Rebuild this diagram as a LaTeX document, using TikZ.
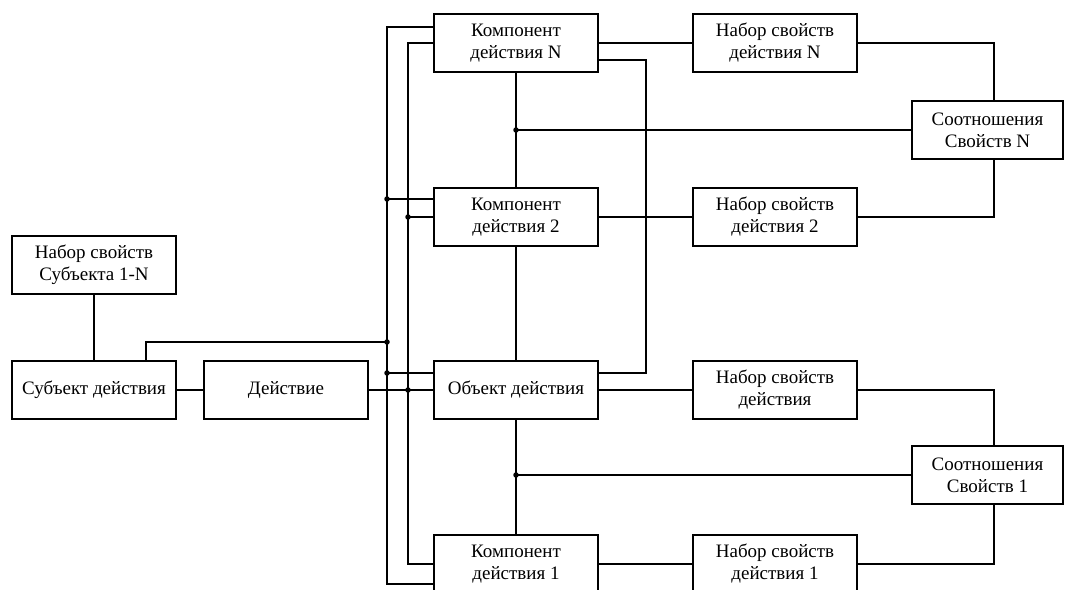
\documentclass[tikz,border=0pt]{standalone}
\usepackage{fontspec}
\setmainfont{Liberation Serif}
\begin{document}
\begin{tikzpicture}[x=1pt,y=-1pt,
  box/.style={draw,line width=1.4pt,minimum width=164pt,minimum height=58pt,inner sep=0pt,align=center,font=\fontsize{19}{22}\selectfont},
  rel/.style={box,minimum width=151pt},
  wire/.style={line width=1.4pt},
  jd/.style={circle,fill,inner sep=0pt,minimum size=5.5pt}]
\useasboundingbox (0,0) rectangle (1065,589);
\clip (0,0) rectangle (1065,589);
% boxes
\node[box] (kN) at (516,43) {Компонент\\действия N};
\node[box] (k2) at (516,217) {Компонент\\действия 2};
\node[box] (obj) at (516,390) {Объект действия};
\node[box] (k1) at (516,564) {Компонент\\действия 1};
\node[box] (nN) at (775,43) {Набор свойств\\действия N};
\node[box] (n2) at (775,217) {Набор свойств\\действия 2};
\node[box] (nd) at (775,390) {Набор свойств\\действия};
\node[box] (n1) at (775,564) {Набор свойств\\действия 1};
\node[rel] (sN) at (987.5,130) {Соотношения\\Свойств N};
\node[rel] (s1) at (987.5,475) {Соотношения\\Свойств 1};
\node[box] (ns) at (94,265) {Набор свойств\\Субъекта 1-N};
\node[box] (sub) at (94,390) {Субъект действия};
\node[box] (act) at (286,390) {Действие};
% helper coordinates
\coordinate (a1) at (387,27);
\coordinate (a2) at (387,584);
\coordinate (a3) at (387,199);
\coordinate (a4) at (387,373);
\coordinate (b1) at (408,43);
\coordinate (b2) at (408,564);
\coordinate (sj) at (146,342);
\coordinate (c1) at (646,60);
\coordinate (d1) at (516,130);
\coordinate (d2) at (516,475);
\coordinate (r) at (994,0);
% left part
\draw[wire] (ns) -- (sub);
\draw[wire] (sub) -- (act);
\draw[wire] (act) -- (obj);
\draw[wire] (sub.north -| sj) -- (sj) -- (sj -| a1);
% buses
\draw[wire] (kN.west |- a1) -- (a1) -- (a2) -- (k1.west |- a2);
\draw[wire] (kN.west) -- (b1) -- (b2) -- (k1.west);
\draw[wire] (a3) -- (k2.west |- a3);
\draw[wire] (a4) -- (obj.west |- a4);
\draw[wire] (k2.west -| b1) -- (k2.west);
% central column
\draw[wire] (kN) -- (k2);
\draw[wire] (k2) -- (obj);
\draw[wire] (obj) -- (k1);
\draw[wire] (kN.east |- c1) -- (c1) -- (c1 |- a4) -- (obj.east |- a4);
\draw[wire] (d1) -- (sN.west);
\draw[wire] (d2) -- (s1.west);
% to property sets
\draw[wire] (kN.east) -- (nN.west);
\draw[wire] (k2.east) -- (n2.west);
\draw[wire] (obj.east) -- (nd.west);
\draw[wire] (k1.east) -- (n1.west);
% to relations
\draw[wire] (nN.east) -| (r |- sN.north);
\draw[wire] (r |- sN.south) |- (n2.east);
\draw[wire] (nd.east) -| (r |- s1.north);
\draw[wire] (r |- s1.south) |- (n1.east);
% junction dots
\node[jd] (j1) at (a3) {};
\node[jd] (j2) at (sj -| a1) {};
\node[jd] (j3) at (a4) {};
\node[jd] (j4) at (k2.west -| b1) {};
\node[jd] (j5) at (act.east -| b1) {};
\node[jd] (j6) at (d1) {};
\node[jd] (j7) at (d2) {};
\end{tikzpicture}
\end{document}
